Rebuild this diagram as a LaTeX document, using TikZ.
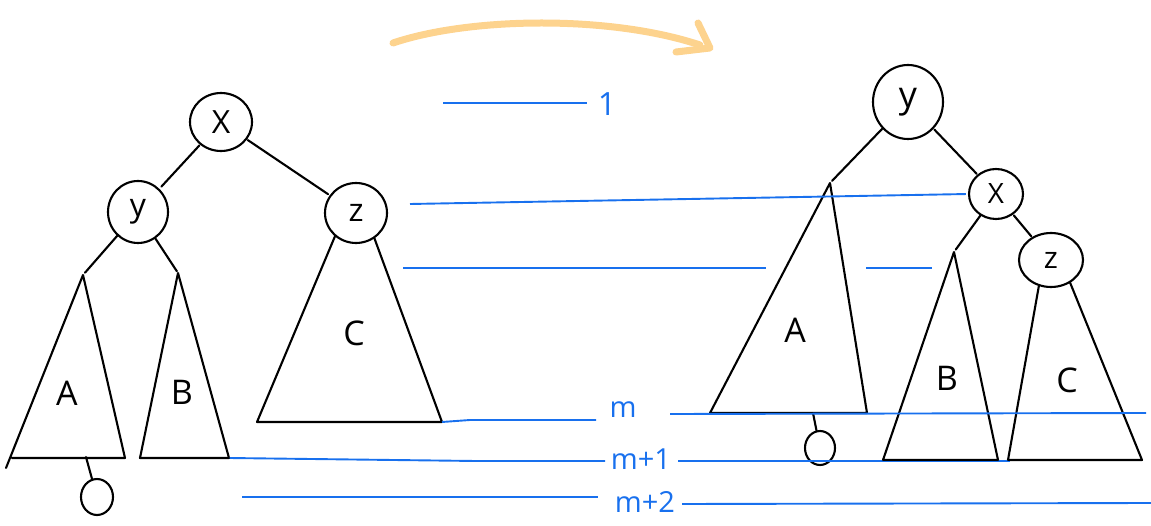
\documentclass[tikz,border=0pt]{standalone}
\usepackage{fontspec}
\setmainfont{Open Sans}
\definecolor{penblue}{RGB}{24,112,238}
\definecolor{penorange}{RGB}{253,211,142}
\tikzset{
  ink/.style={line width=2.1pt, black, line cap=round, line join=round},
  level/.style={line width=1.9pt, penblue},
  circnode/.style={ellipse, draw, line width=2.1pt, inner sep=0pt, font=\fontsize{32}{32}\selectfont},
  zeronode/.style={ellipse, draw, line width=2.1pt, inner sep=0pt},
  treelabel/.style={font=\fontsize{34}{34}\selectfont},
  levellabel/.style={text=penblue, font=\fontsize{29}{29}\selectfont},
  swoosh/.style={line width=7pt, penorange, line cap=round, line join=round}
}
\usetikzlibrary{shapes.geometric}
\begin{document}
\begin{tikzpicture}[x=1pt, y=-1pt]
\useasboundingbox (0,0) rectangle (1151,526);

% ---------- left tree ----------
\node[circnode, minimum width=62pt, minimum height=58pt] (X1) at (221,122) {X};
\node[circnode, minimum width=60pt, minimum height=62pt] (Y1) at (138,212) {y};
\node[circnode, minimum width=62pt, minimum height=60pt] (Z1) at (356,213) {z};

\coordinate (A1t) at (83,275);
\coordinate (A1l) at (12,458);
\coordinate (A1x) at (6,468);
\coordinate (A1r) at (125,458);
\coordinate (B1t) at (178,273);
\coordinate (B1l) at (140,458);
\coordinate (B1r) at (229,458);
\coordinate (C1l) at (257,422);
\coordinate (C1r) at (442,422);

\draw[ink, shorten <=1pt, shorten >=3pt] (X1) -- (Y1);
\draw[ink, shorten <=1pt, shorten >=2pt] (X1) -- (Z1);
\draw[ink, shorten >=3pt] (Y1) -- (A1t);
\draw[ink, shorten >=2pt] (Y1) -- (B1t);

\draw[ink] (A1x) -- (A1t) -- (A1r) -- (A1l);
\draw[ink] (B1t) -- (B1r) -- (B1l) -- cycle;
\draw[ink] (Z1.228) -- (C1l) -- (C1r) -- (Z1.306);

\node[treelabel] (LA1) at (67,393) {A};
\node[treelabel] (LB1) at (182,392) {B};
\node[treelabel] (LC1) at (354,333) {C};

\node[zeronode, minimum width=32pt, minimum height=36pt] (O1) at (97,497) {};
\coordinate (O1s) at (86,457);
\draw[ink] (O1s) -- (O1);

% ---------- right tree ----------
\node[circnode, minimum width=70pt, minimum height=74pt, font=\fontsize{36}{36}\selectfont] (Y2) at (908,102) {y};
\node[circnode, minimum width=54pt, minimum height=50pt, font=\fontsize{28}{28}\selectfont] (X2) at (996,194) {X};
\node[circnode, minimum width=64pt, minimum height=54pt, font=\fontsize{30}{30}\selectfont] (Z2) at (1051,260) {z};

\coordinate (A2t) at (830,183);
\coordinate (A2l) at (710,413);
\coordinate (A2r) at (867,413);
\coordinate (B2t) at (954,252);
\coordinate (B2l) at (883,460);
\coordinate (B2r) at (998,460);
\coordinate (C2l) at (1008,460);
\coordinate (C2r) at (1142,460);

\draw[ink, shorten >=3pt] (Y2) -- (A2t);
\draw[ink, shorten <=1pt, shorten >=1pt] (Y2) -- (X2);
\draw[ink, shorten >=3pt] (X2) -- (B2t);
\draw[ink, shorten <=1pt, shorten >=1pt] (X2) -- (Z2);

\draw[ink] (A2t) -- (A2r) -- (A2l) -- cycle;
\draw[ink] (B2t) -- (B2r) -- (B2l) -- cycle;
\draw[ink] (Z2.245) -- (C2l) -- (C2r) -- (Z2.310);

\node[treelabel] (LA2) at (795,330) {A};
\node[treelabel] (LB2) at (947,378) {B};
\node[treelabel] (LC2) at (1067,380) {C};

\node[zeronode, minimum width=30pt, minimum height=34pt] (O2) at (820,448) {};
\coordinate (O2s) at (813,413);
\draw[ink] (O2s) -- (O2);

% ---------- level lines ----------
\coordinate (L1a) at (443,103);
\coordinate (L1b) at (587,103);
\node[levellabel, font=\fontsize{32}{32}\selectfont] (T1) at (607,104) {1};
\draw[level] (L1a) -- (L1b);

\coordinate (L2a) at (410,204);
\draw[level, shorten >=2pt] (L2a) -- (X2.west);

\coordinate (L3a) at (403,268);
\coordinate (L3b) at (766,268);
\coordinate (L3c) at (866,268);
\coordinate (L3d) at (932,268);
\draw[level] (L3a) -- (L3b);
\draw[level] (L3c) -- (L3d);

\node[levellabel] (Tm) at (623,410) {m};
\coordinate (Lma) at (470,420);
\coordinate (Lmb) at (596,420);
\coordinate (Lmc) at (670,414);
\coordinate (Lmd) at (1146,413);
\draw[level] (C1r) -- (Lma) -- (Lmb);
\draw[level] (Lmc) -- (Lmd);

\node[levellabel] (Tm1) at (641,459) {m+1};
\coordinate (Lpa) at (476,461);
\coordinate (Lpb) at (605,461);
\coordinate (Lpc) at (678,461);
\coordinate (Lpd) at (1010,461);
\draw[level] (B1r) -- (Lpa) -- (Lpb);
\draw[level] (Lpc) -- (Lpd);

\node[levellabel] (Tm2) at (645,502) {m+2};
\coordinate (Lqa) at (242,497);
\coordinate (Lqb) at (598,497);
\coordinate (Lqc) at (682,504);
\coordinate (Lqd) at (1151,503);
\draw[level] (Lqa) -- (Lqb);
\draw[level] (Lqc) -- (Lqd);

% redraw triangle bottoms over the blue line
\draw[ink] (B2l) -- (B2r);
\draw[ink] (C2l) -- (C2r);
\draw[ink] (B1l) -- (B1r);

% ---------- orange arrow ----------
\coordinate (Sa) at (393,43);
\coordinate (Sb) at (700,45);
\coordinate (Sh1) at (698,23);
\coordinate (Sh2) at (710,48);
\coordinate (Sh3) at (676,52);
\draw[swoosh] (Sa) .. controls (470,17) and (610,15) .. (Sb);
\draw[swoosh] (Sh1) -- (Sh2) -- (Sh3);
\end{tikzpicture}
\end{document}
